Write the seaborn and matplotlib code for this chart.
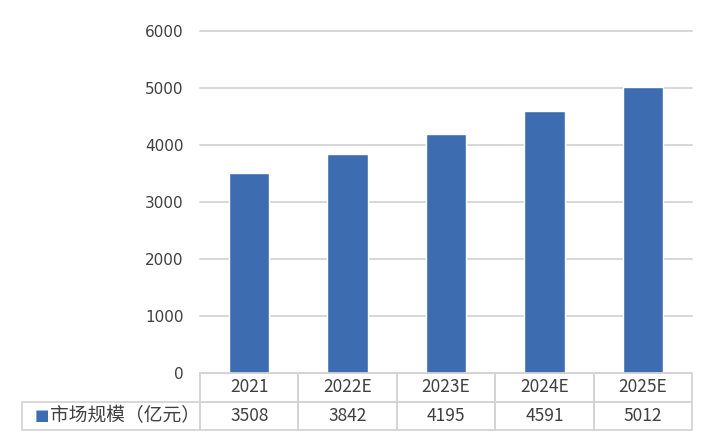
import numpy as np
import pandas as pd
import matplotlib
matplotlib.use("Agg")
import matplotlib.pyplot as plt
import seaborn as sns

years = ['2021', '2022E', '2023E', '2024E', '2025E']
market_size = [3508, 3842, 4195, 4591, 5012]
series_name = '市场规模（亿元）'
bar_color = '#3e6cb1'
grid_color = '#d4d4d4'
text_color = '#404040'

sns.set_theme(style='white')
plt.rcParams['font.family'] = ['Noto Sans CJK SC', 'DejaVu Sans']

df = pd.DataFrame({'year': years, 'value': market_size})

fig = plt.figure(figsize=(7.28, 4.46), dpi=100)
ax = fig.add_axes([200/728, 1-373/446, 492/728, 342/446])

sns.barplot(data=df, x='year', y='value', color=bar_color, width=0.41,
            saturation=1, ax=ax)

ax.set_ylim(0, 6000)
ax.set_yticks(np.arange(0, 6001, 1000))
ax.set_xlim(-0.5, len(years) - 0.5)
ax.yaxis.grid(True, color=grid_color, linewidth=1.3)
for gl in ax.get_ygridlines():
    gl.set_clip_on(False)
ax.set_axisbelow(True)
for s in ['left', 'right', 'top']:
    ax.spines[s].set_visible(False)
ax.spines['bottom'].set_color(grid_color)
ax.tick_params(axis='x', bottom=False, labelbottom=False)
ax.tick_params(axis='y', left=False, pad=6, labelsize=11, labelcolor=text_color)
for lab in ax.get_yticklabels():
    lab.set_family(['DejaVu Sans'])
ax.set_xlabel('')
ax.set_ylabel('')

# data table under the chart (first column holds the series label)
lab_w = 178 / 492
col_w = 1 / len(years)
tbl_h = 57 / 342
tbl = ax.table(cellText=[[series_name] + [str(v) for v in market_size]],
               colLabels=[''] + years,
               colWidths=[lab_w] + [col_w] * len(years),
               cellLoc='center',
               bbox=[-lab_w, -tbl_h, 1 + lab_w, tbl_h])
tbl.auto_set_font_size(False)
for (r, c), cell in tbl.get_celld().items():
    cell.set_edgecolor(grid_color)
    cell.set_linewidth(1.3)
    cell.get_text().set_color(text_color)
    cell.get_text().set_fontsize(12.5)
    cell.set_facecolor('none')
    if r == 0 and c == 0:
        cell.visible_edges = ''
    if r == 1 and c == 0:
        cell.get_text().set_ha('left')
        cell.get_text().set_fontsize(13.5)
        cell.PAD = 0.155

# legend key in the label cell
ax.text(-lab_w + 13/492, -tbl_h * 0.74, '■', transform=ax.transAxes,
        color=bar_color, fontsize=11, va='center', ha='left',
        family=['DejaVu Sans'])

fig.savefig('out.png', dpi=100)
